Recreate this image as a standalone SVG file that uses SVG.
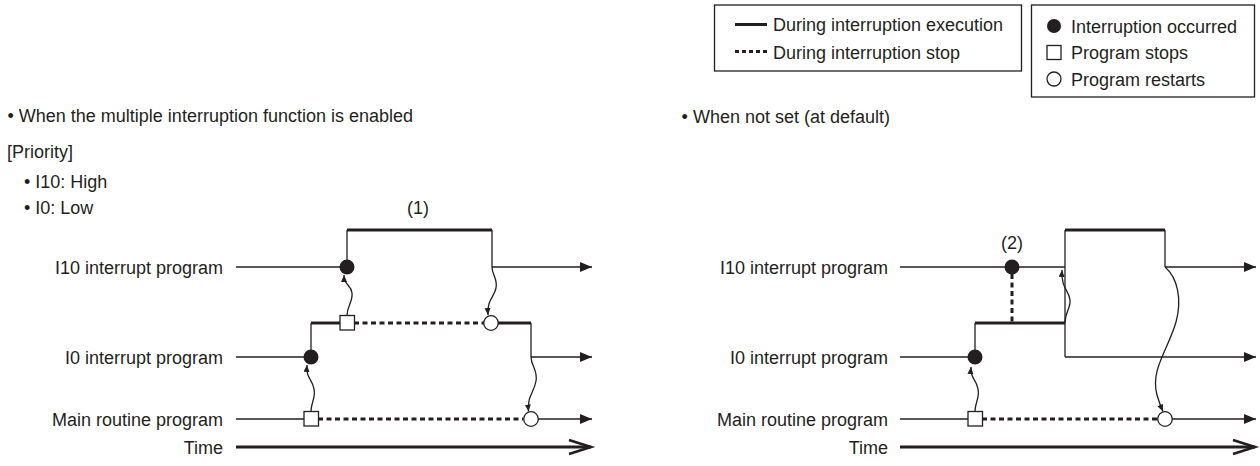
<svg xmlns="http://www.w3.org/2000/svg" width="1260" height="466" viewBox="0 0 1260 466">
<style>
text{font-family:"Liberation Sans",Arial,sans-serif;font-size:18px;fill:#231f20}
.end{text-anchor:end}
.mid{text-anchor:middle}
.thin{stroke:#231f20;stroke-width:1.3;fill:none}
.thick{stroke:#231f20;stroke-width:3;fill:none}
.dot{stroke:#231f20;stroke-width:3;fill:none;stroke-dasharray:5 3.5}
.box{stroke:#231f20;stroke-width:1.3;fill:#fff}
.fc{fill:#231f20;stroke:none}
.oc{fill:#fff;stroke:#231f20;stroke-width:1.3}
.sq{fill:#fff;stroke:#231f20;stroke-width:1.3}
.arr{stroke:#231f20;stroke-width:1.3;fill:none;marker-end:url(#tri)}
.cur{stroke:#231f20;stroke-width:1.3;fill:none;marker-end:url(#sm)}
.time{stroke:#231f20;stroke-width:3;fill:none;marker-end:url(#chev)}
</style>
<defs>
<marker id="tri" markerUnits="userSpaceOnUse" markerWidth="13" markerHeight="11" refX="12" refY="5" orient="auto"><path d="M0,0 L12,5 L0,10 z" fill="#231f20"/></marker>
<marker id="sm" markerUnits="userSpaceOnUse" markerWidth="9" markerHeight="8" refX="7" refY="3" orient="auto"><path d="M0,0 L7,3 L0,6 z" fill="#231f20"/></marker>
<marker id="chev" markerUnits="userSpaceOnUse" markerWidth="26" markerHeight="18" refX="23" refY="9" orient="auto" overflow="visible"><path d="M1,2 L23,9 L1,16" fill="none" stroke="#231f20" stroke-width="2.6"/></marker>
</defs>
<rect width="1260" height="466" fill="#fff"/>

<g id="legend-lines">
<rect class="box" x="714.5" y="5" width="307" height="66"/>
<line class="thick" x1="735" y1="24.5" x2="767" y2="24.5"/>
<text x="773" y="31">During interruption execution</text>
<line class="dot" x1="735" y1="51.5" x2="767" y2="51.5" style="stroke-dasharray:4 3"/>
<text x="773" y="58.5">During interruption stop</text>
</g>
<g id="legend-symbols">
<rect class="box" x="1031.5" y="5" width="223" height="92"/>
<circle class="fc" cx="1054" cy="26" r="7"/>
<text x="1071" y="32.5">Interruption occurred</text>
<rect class="sq" x="1047" y="45.5" width="14" height="14"/>
<text x="1071" y="59">Program stops</text>
<circle class="oc" cx="1054" cy="79" r="7"/>
<text x="1071" y="85.5">Program restarts</text>
</g>

<g id="left-header">
<text x="7.5" y="122">• When the multiple interruption function is enabled</text>
<text x="7" y="158">[Priority]</text>
<text x="24" y="188">• I10: High</text>
<text x="24" y="214">• I0: Low</text>
<text class="mid" x="418" y="214">(1)</text>
</g>
<g id="right-header">
<text class="end" x="890" y="123">• When not set (at default)</text>
<text class="mid" x="1012" y="249">(2)</text>
</g>

<g id="left-labels">
<text class="end" x="223" y="273.5">I10 interrupt program</text>
<text class="end" x="223" y="363.5">I0 interrupt program</text>
<text class="end" x="223" y="425.5">Main routine program</text>
<text class="end" x="223" y="453.5">Time</text>
</g>
<g id="right-labels">
<text class="end" x="888" y="273.5">I10 interrupt program</text>
<text class="end" x="888" y="363.5">I0 interrupt program</text>
<text class="end" x="888" y="425.5">Main routine program</text>
<text class="end" x="888" y="453.5">Time</text>
</g>

<g id="connectors">
<!-- left panel timelines -->
<line class="thin" x1="236" y1="267" x2="340" y2="267"/>
<path class="thin" d="M347,267 V230"/>
<path class="thick" d="M347,230 H492"/>
<path class="thin" d="M492,230 V267"/>
<line class="arr" x1="492" y1="267" x2="592" y2="267"/>

<line class="thin" x1="236" y1="357" x2="304" y2="357"/>
<path class="thin" d="M311,357 V323"/>
<path class="thick" d="M311,323 H340"/>
<line class="dot" x1="354" y1="323" x2="484" y2="323"/>
<path class="thick" d="M498,323 H531"/>
<path class="thin" d="M531,323 V357"/>
<line class="arr" x1="531" y1="357" x2="592" y2="357"/>

<line class="thin" x1="236" y1="419" x2="304" y2="419"/>
<line class="dot" x1="318" y1="419" x2="523" y2="419"/>
<line class="arr" x1="538" y1="419" x2="592" y2="419"/>
<line class="time" x1="236" y1="447" x2="591" y2="447"/>

<path class="cur" d="M347,315.5 C347,306 353,302 352,293 C351,284 344,286 344,275"/>
<path class="cur" d="M311,411.5 C311,402 316,398 314,389 C312,378 306,379 307,365"/>
<path class="cur" d="M492,267 C492,275 498,279 496,288 C494,298 487,299 488,315"/>
<path class="cur" d="M531,357 C531,366 538,370 536,381 C534,393 527,396 528.5,411.5"/>

<!-- right panel timelines -->
<line class="thin" x1="900" y1="267" x2="1005" y2="267"/>
<line class="thin" x1="1019" y1="267" x2="1065" y2="267"/>
<path class="thin" d="M1065,230 V357"/>
<path class="thick" d="M1065,230 H1165"/>
<path class="thin" d="M1165,230 V267"/>
<line class="arr" x1="1165" y1="267" x2="1256" y2="267"/>
<line class="dot" x1="1012" y1="274" x2="1012" y2="321.5"/>

<line class="thin" x1="900" y1="357" x2="968" y2="357"/>
<path class="thin" d="M975,357 V323"/>
<path class="thick" d="M975,323 H1065"/>
<line class="arr" x1="1065" y1="357" x2="1256" y2="357"/>

<line class="thin" x1="900" y1="419" x2="968" y2="419"/>
<line class="dot" x1="982" y1="419" x2="1158" y2="419"/>
<line class="arr" x1="1172" y1="419" x2="1256" y2="419"/>
<line class="time" x1="900" y1="447" x2="1255" y2="447"/>

<path class="cur" d="M1065,323 C1065,312 1071,308 1070,300 C1069,290 1061,289 1062,270"/>
<path class="cur" d="M975,411.5 C975,402 980,398 978,389 C976,378 970,379 971,367"/>
<path class="cur" d="M1165,267 C1178,278 1182,300 1176,322 C1168,350 1150,370 1157,395 C1159,402 1161,407 1163,411.5"/>
</g>

<g id="left-markers">
<circle class="fc" cx="347" cy="267" r="7.5"/>
<rect class="sq" x="340" y="315.5" width="14.5" height="14.5"/>
<circle class="oc" cx="491" cy="323" r="7.3"/>
<circle class="fc" cx="311" cy="357" r="7.5"/>
<rect class="sq" x="304" y="411.5" width="14.5" height="14.5"/>
<circle class="oc" cx="531" cy="419" r="7.3"/>
</g>
<g id="right-markers">
<circle class="fc" cx="1012" cy="267" r="7.5"/>
<circle class="fc" cx="975" cy="357" r="7.5"/>
<rect class="sq" x="968" y="411.5" width="14.5" height="14.5"/>
<circle class="oc" cx="1165" cy="419" r="7.3"/>
</g>
</svg>
